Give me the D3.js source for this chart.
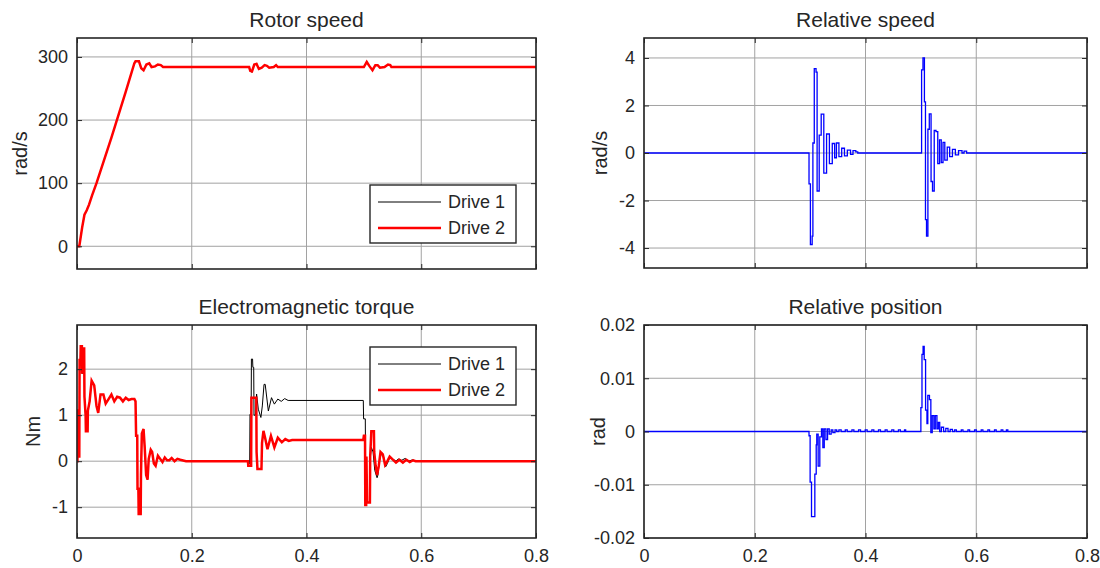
<!DOCTYPE html>
<html lang="en">
<head>
<meta charset="UTF-8">
<title>Dual drive simulation</title>
<script src="https://d3js.org/d3.v7.min.js"></script>
<style>
  body { margin: 0; background: #fff; }
  svg text { font-family: "Liberation Sans", Arial, sans-serif; fill: #262626; }
</style>
</head>
<body>
<div id="chart"></div>
<script>
// ---- data (time in s) ----
const xTicks = [0, 0.2, 0.4, 0.6, 0.8];

const speedTicks = [0, 100, 200, 300];
const speedDrive2 = [
  [0, 0], [0.004, 0], [0.009, 30], [0.013, 50], [0.017, 57], [0.021, 66], [0.026, 80],
  [0.034, 100], [0.06, 172], [0.085, 245], [0.1, 290], [0.102, 293], [0.108, 293],
  [0.112, 282], [0.116, 279], [0.121, 288], [0.126, 290], [0.13, 284], [0.136, 285],
  [0.141, 288], [0.146, 287], [0.15, 284], [0.3, 284], [0.302, 278], [0.305, 277],
  [0.309, 288], [0.313, 289], [0.317, 281], [0.322, 283], [0.327, 287], [0.331, 286],
  [0.335, 283], [0.343, 284], [0.347, 287], [0.35, 284], [0.5, 284], [0.505, 292],
  [0.51, 285], [0.515, 279], [0.52, 287], [0.524, 287], [0.528, 283], [0.536, 284],
  [0.542, 288], [0.546, 287], [0.548, 284], [0.8, 284]
];
const speedDrive1 = [
  [0, 0], [0.004, 0], [0.009, 30], [0.013, 50], [0.017, 57], [0.021, 66], [0.026, 80],
  [0.034, 100], [0.06, 172], [0.085, 245], [0.1, 290], [0.102, 293], [0.108, 293],
  [0.112, 282], [0.116, 279], [0.121, 288], [0.126, 290], [0.13, 284], [0.136, 285],
  [0.141, 288], [0.146, 287], [0.15, 284], [0.3, 284], [0.302, 277], [0.305, 276],
  [0.309, 288], [0.313, 290], [0.317, 281], [0.322, 283], [0.327, 287], [0.331, 286],
  [0.335, 283], [0.343, 284], [0.347, 287], [0.35, 284], [0.5, 284], [0.505, 293],
  [0.51, 285], [0.515, 279], [0.52, 287], [0.524, 287], [0.528, 283], [0.536, 284],
  [0.542, 288], [0.546, 287], [0.548, 284], [0.8, 284]
];

const relSpeedTicks = [-4, -2, 0, 2, 4];
const relSpeed = [
  [0, 0], [0.298, -1.3], [0.3005, -3.85], [0.3037, -3.5], [0.305, 0.42], [0.3075, 3.55],
  [0.3107, 3.4], [0.3126, -1.6], [0.3164, 0.75], [0.32, 1.64], [0.3247, -0.85],
  [0.3297, 0.8], [0.3348, -0.45], [0.34, 0.4], [0.3443, -0.2], [0.3475, 0.42],
  [0.352, -0.15], [0.357, 0.2], [0.362, -0.12], [0.3672, 0.12], [0.373, -0.06],
  [0.3774, 0.1], [0.3825, 0.05], [0.386, 0],
  [0.5013, 3.5], [0.5038, 4.0], [0.5064, 2.15], [0.5083, -2.8], [0.5102, -3.5],
  [0.5127, 1.0], [0.5152, 1.65], [0.5184, -1.2], [0.521, -1.6], [0.5241, 0.95],
  [0.5273, 0.9], [0.5305, -0.45], [0.5337, 0.55], [0.5368, -0.4], [0.54, 0.45],
  [0.5432, -0.3], [0.5476, 0.25], [0.552, -0.15], [0.557, 0.15], [0.5623, -0.08],
  [0.568, 0.1], [0.5743, 0], [0.578, 0.08], [0.5826, 0], [0.8, 0]
];

const torqueTicks = [-1, 0, 1, 2];
const torqueStart = [
  [0, 0], [0.0008, 0], [0.001, 1.1], [0.0025, 1.1], [0.003, 0.1], [0.004, 0.1],
  [0.0045, 2.2], [0.006, 2.2], [0.0065, 2.5], [0.0085, 2.5], [0.009, 1.9], [0.011, 2.45],
  [0.0125, 2.45], [0.013, 1.4], [0.015, 1.0], [0.0155, 0.65], [0.0185, 0.65], [0.019, 1.1],
  [0.022, 1.3], [0.0255, 1.75], [0.03, 1.65], [0.034, 1.2], [0.037, 1.05], [0.041, 1.45],
  [0.046, 1.45], [0.05, 1.25], [0.055, 1.35], [0.06, 1.45], [0.065, 1.3], [0.07, 1.4],
  [0.075, 1.38], [0.08, 1.3], [0.085, 1.38], [0.09, 1.33], [0.095, 1.35], [0.1, 1.35],
  [0.102, 1.3], [0.103, 0.55], [0.105, 0.55], [0.1055, -0.6], [0.107, -0.6],
  [0.1075, -1.15], [0.111, -1.15], [0.1115, -0.3], [0.113, 0.6], [0.116, 0.7],
  [0.118, 0.3], [0.1205, -0.3], [0.123, -0.4], [0.125, 0.05], [0.1285, 0.25],
  [0.131, 0.2], [0.134, -0.05], [0.137, -0.1], [0.141, 0.12], [0.145, 0.05],
  [0.149, -0.02], [0.153, 0.08], [0.157, 0.02], [0.161, 0.02], [0.165, 0.07],
  [0.17, 0], [0.175, 0.05], [0.18, 0.03], [0.19, 0], [0.298, 0]
];
const torqueDrive1 = torqueStart.concat([
  [0.2995, -0.05], [0.301, -0.05], [0.3015, 1.02], [0.3035, 1.02], [0.304, 2.22],
  [0.306, 2.22], [0.3065, 2.04], [0.308, 2.04], [0.3085, 1.0], [0.311, 1.0], [0.313, 1.46],
  [0.316, 1.13], [0.3205, 0.95], [0.323, 1.2], [0.326, 1.67], [0.328, 1.67],
  [0.3335, 1.09], [0.339, 1.38], [0.344, 1.24], [0.35, 1.35], [0.356, 1.3], [0.362, 1.36],
  [0.368, 1.32], [0.499, 1.32], [0.4995, 0.92], [0.5025, 0.92], [0.503, -0.28],
  [0.505, -0.28], [0.5055, -0.9], [0.51, -0.9], [0.5105, 0.0], [0.513, 0.3], [0.516, 0.2],
  [0.519, -0.2], [0.523, -0.36], [0.5245, -0.3], [0.527, 0.0], [0.531, 0.19],
  [0.534, 0.12], [0.538, -0.12], [0.541, -0.05], [0.545, 0.08], [0.55, 0.05],
  [0.556, 0.0], [0.56, 0.05], [0.566, 0.02], [0.572, 0.06], [0.578, 0.0], [0.585, 0.03],
  [0.59, 0], [0.8, 0]
]);
const torqueDrive2 = torqueStart.concat([
  [0.2985, -0.1], [0.3035, -0.1], [0.304, 1.38], [0.3125, 1.38], [0.313, 0.2],
  [0.3145, -0.17], [0.3215, -0.17], [0.3225, 0.4], [0.325, 0.66], [0.328, 0.5],
  [0.332, 0.26], [0.338, 0.55], [0.344, 0.3], [0.35, 0.51], [0.357, 0.41], [0.363, 0.48],
  [0.369, 0.44], [0.375, 0.46], [0.499, 0.46], [0.5, 0.55], [0.502, 0.55],
  [0.5025, -0.95], [0.504, -0.95], [0.5045, 0.1], [0.5055, -0.9], [0.5105, -0.9],
  [0.511, 0.1], [0.513, 0.65], [0.5175, 0.65], [0.518, 0.2], [0.5205, -0.1],
  [0.523, -0.3], [0.526, -0.1], [0.529, 0.2], [0.533, 0.15], [0.537, -0.08],
  [0.541, 0.0], [0.545, 0.1], [0.55, 0.04], [0.556, -0.03], [0.562, 0.03],
  [0.568, -0.03], [0.574, 0.03], [0.58, -0.02], [0.586, 0.02], [0.59, 0], [0.8, 0]
]);

const relPosTicks = [-0.02, -0.01, 0, 0.01, 0.02];
const relPos = [
  [0, 0], [0.298, -0.0008], [0.3, -0.0095], [0.3025, -0.016], [0.3085, -0.008],
  [0.311, -0.0025], [0.312, -0.0005], [0.3145, -0.0065], [0.3175, -0.001],
  [0.3205, 0.0005], [0.323, -0.003], [0.3255, 0.0005], [0.3285, -0.0015],
  [0.3315, 0.0005], [0.3345, -0.0005], [0.338, 0.0003], [0.341, -0.0002],
  [0.345, 0.0003], [0.348, 0], [0.352, 0.0003], [0.356, 0], [0.3635, 0.0003],
  [0.367, 0], [0.3755, 0.0003], [0.379, 0], [0.3875, 0.0003], [0.391, 0],
  [0.3995, 0.0003], [0.403, 0], [0.4115, 0.0003], [0.415, 0], [0.4235, 0.0003],
  [0.427, 0], [0.4355, 0.0003], [0.439, 0], [0.4475, 0.0003], [0.451, 0],
  [0.4595, 0.0003], [0.463, 0], [0.4705, 0.0003], [0.4725, 0],
  [0.5, 0.0045], [0.502, 0.0145], [0.504, 0.016], [0.506, 0.0135], [0.5085, 0.004],
  [0.511, 0.0015], [0.5125, 0.0068], [0.5155, 0.006], [0.518, -0.0002],
  [0.5205, 0.003], [0.5235, 0.0005], [0.526, 0.003], [0.529, 0.0005],
  [0.5315, 0.0017], [0.534, 0], [0.537, 0.0008], [0.541, 0], [0.545, 0.0006],
  [0.549, 0], [0.553, 0.0004], [0.557, 0], [0.561, 0.0003], [0.564, 0],
  [0.573, 0.0003], [0.576, 0], [0.585, 0.0003], [0.588, 0], [0.597, 0.0003],
  [0.6, 0], [0.609, 0.0003], [0.612, 0], [0.621, 0.0003], [0.624, 0],
  [0.633, 0.0003], [0.636, 0], [0.645, 0.0003], [0.648, 0], [0.6545, 0.0003],
  [0.657, 0], [0.8, 0]
];

// ---- layout ----
const W = 1100, H = 568;
const svg = d3.select('#chart').append('svg')
  .attr('width', W).attr('height', H);

const fmt = v => String(+v.toFixed(4));

function panel(opt) {
  const x = d3.scaleLinear().domain([0, 0.8]).range([opt.x0, opt.x1]);
  const y = d3.scaleLinear().domain(opt.yDomain).range([opt.y1, opt.y0]);
  const g = svg.append('g');
  const id = 'clip' + opt.name;

  g.append('clipPath').attr('id', id).append('rect')
    .attr('x', opt.x0).attr('y', opt.y0)
    .attr('width', opt.x1 - opt.x0).attr('height', opt.y1 - opt.y0);

  // grid
  g.append('g').selectAll('line').data(xTicks).join('line')
    .attr('x1', d => x(d)).attr('x2', d => x(d))
    .attr('y1', opt.y0).attr('y2', opt.y1)
    .attr('stroke', '#a2a2a2').attr('stroke-width', 1);
  g.append('g').selectAll('line').data(opt.yTicks).join('line')
    .attr('y1', d => y(d)).attr('y2', d => y(d))
    .attr('x1', opt.x0).attr('x2', opt.x1)
    .attr('stroke', '#a2a2a2').attr('stroke-width', 1);

  // series
  opt.series.forEach(s => {
    g.append('path')
      .datum(s.data)
      .attr('clip-path', `url(#${id})`)
      .attr('fill', 'none')
      .attr('stroke', s.color)
      .attr('stroke-width', s.width)
      .attr('d', d3.line().x(d => x(d[0])).y(d => y(d[1])).curve(s.curve || d3.curveLinear));
  });

  // axes (ticks inward, on all four sides)
  const tk = 5;
  const left = g.append('g').attr('transform', `translate(${opt.x0},0)`)
    .call(d3.axisLeft(y).tickValues(opt.yTicks).tickSize(-tk).tickPadding(9).tickFormat(fmt));
  const right = g.append('g').attr('transform', `translate(${opt.x1},0)`)
    .call(d3.axisRight(y).tickValues(opt.yTicks).tickSize(-tk).tickFormat(''));
  const bottom = g.append('g').attr('transform', `translate(0,${opt.y1})`)
    .call(d3.axisBottom(x).tickValues(xTicks).tickSize(-tk).tickPadding(11)
      .tickFormat(opt.xLabels ? fmt : ''));
  const top = g.append('g').attr('transform', `translate(0,${opt.y0})`)
    .call(d3.axisTop(x).tickValues(xTicks).tickSize(-tk).tickFormat(''));
  [left, right, bottom, top].forEach(a => {
    a.select('.domain').remove();
    a.selectAll('line').attr('stroke', '#262626');
    a.selectAll('text').style('font-size', '18px').attr('fill', '#262626');
  });

  g.append('rect')
    .attr('x', opt.x0).attr('y', opt.y0)
    .attr('width', opt.x1 - opt.x0).attr('height', opt.y1 - opt.y0)
    .attr('fill', 'none').attr('stroke', '#262626').attr('stroke-width', 1.6);

  g.append('text')
    .attr('x', (opt.x0 + opt.x1) / 2).attr('y', opt.y0 - 11)
    .attr('text-anchor', 'middle').style('font-size', '21px')
    .text(opt.title);

  g.append('text')
    .attr('transform', `translate(${opt.labelX},${(opt.y0 + opt.y1) / 2}) rotate(-90)`)
    .attr('text-anchor', 'middle').style('font-size', '20px')
    .text(opt.ylabel);

  if (opt.legend) {
    const L = opt.legend;
    const lg = g.append('g');
    lg.append('rect')
      .attr('x', L.x).attr('y', L.y).attr('width', 146).attr('height', 58)
      .attr('fill', '#fff').attr('stroke', '#262626').attr('stroke-width', 1.4);
    opt.series.forEach((s, i) => {
      const yy = L.y + 17 + i * 26;
      lg.append('line')
        .attr('x1', L.x + 8).attr('x2', L.x + 71).attr('y1', yy).attr('y2', yy)
        .attr('stroke', s.color).attr('stroke-width', s.width);
      lg.append('text')
        .attr('x', L.x + 78).attr('y', yy + 6).style('font-size', '18px')
        .text(s.name);
    });
  }
}

panel({
  name: 'speed', title: 'Rotor speed', ylabel: 'rad/s', labelX: 27,
  x0: 77, x1: 536, y0: 38, y1: 269, yDomain: [-36, 330], yTicks: speedTicks,
  series: [
    { name: 'Drive 1', data: speedDrive1, color: '#000', width: 1 },
    { name: 'Drive 2', data: speedDrive2, color: '#ff0000', width: 2.5 }
  ],
  legend: { x: 370, y: 185 }
});

panel({
  name: 'rels', title: 'Relative speed', ylabel: 'rad/s', labelX: 607,
  x0: 644, x1: 1087, y0: 38, y1: 268, yDomain: [-4.84, 4.84], yTicks: relSpeedTicks,
  series: [{ name: 'rel', data: relSpeed, color: '#0000ff', width: 1.3, curve: d3.curveStepAfter }]
});

panel({
  name: 'torque', title: 'Electromagnetic torque', ylabel: 'Nm', labelX: 40,
  x0: 77, x1: 536, y0: 325, y1: 538, yDomain: [-1.67, 2.96], yTicks: torqueTicks,
  xLabels: true,
  series: [
    { name: 'Drive 1', data: torqueDrive1, color: '#000', width: 1 },
    { name: 'Drive 2', data: torqueDrive2, color: '#ff0000', width: 2.5 }
  ],
  legend: { x: 370, y: 347 }
});

panel({
  name: 'relp', title: 'Relative position', ylabel: 'rad', labelX: 605,
  x0: 644, x1: 1087, y0: 325, y1: 538, yDomain: [-0.02, 0.02], yTicks: relPosTicks,
  xLabels: true,
  series: [{ name: 'pos', data: relPos, color: '#0000ff', width: 1.3, curve: d3.curveStepAfter }]
});
</script>
</body>
</html>
